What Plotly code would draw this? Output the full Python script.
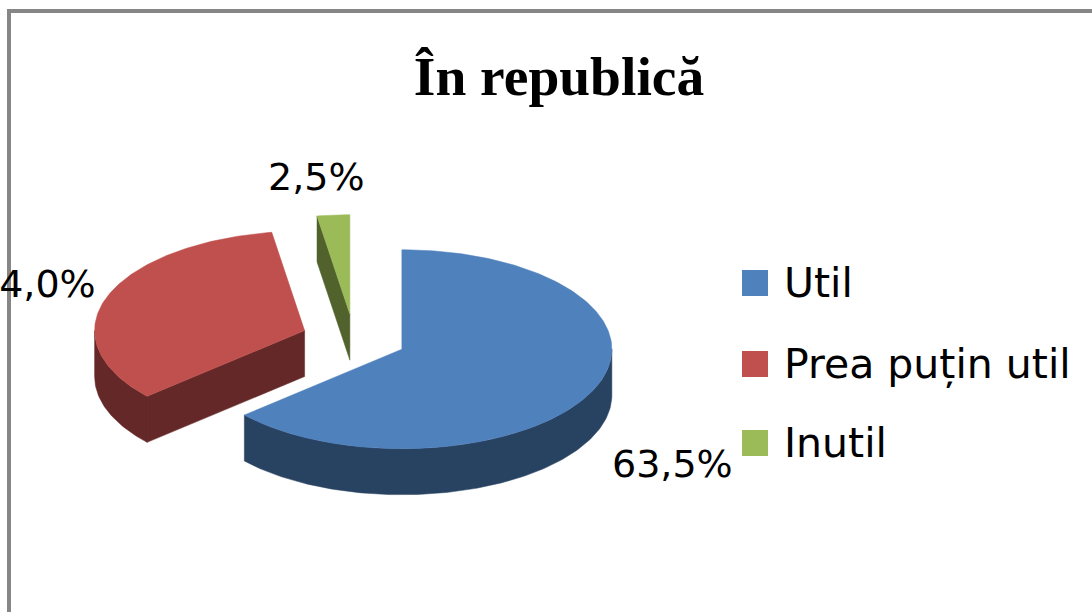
import numpy as np
import plotly.graph_objects as go

title = "În republică"
categories = ["Util", "Prea puțin util", "Inutil"]
values = [63.5, 34.0, 2.5]

top_colors = ["#4F81BD", "#C0504D", "#9BBB59"]
wall_colors = ["#284262", "#632827", "#51622C"]

# Pie geometry, in pixels of the page
W, H = 1092, 612
ORIGIN = (354.0, 339.0)
RX, RY = 210.0, 99.5
DEPTH = 46.0
EXPLODE = 0.25


def pt(center, deg):
    a = np.radians(deg)
    return center[0] + RX * np.sin(a), center[1] - RY * np.cos(a)


def arc(center, a0, a1):
    n = max(2, int(abs(a1 - a0)) + 2)
    xs, ys = pt(center, np.linspace(a0, a1, n))
    return list(xs), list(ys)


fig = go.Figure()

edges = np.concatenate([[0], np.cumsum(values)]) / sum(values) * 360
slices = []
for i in range(len(values)):
    a0, a1 = edges[i], edges[i + 1]
    mid = (a0 + a1) / 2
    c = pt(ORIGIN, mid)
    c = (ORIGIN[0] + EXPLODE * (c[0] - ORIGIN[0]), ORIGIN[1] + EXPLODE * (c[1] - ORIGIN[1]))
    slices.append((i, a0, a1, c))


def poly(xs, ys, color):
    fig.add_trace(go.Scatter(x=xs, y=ys, mode="lines", fill="toself", fillcolor=color,
                             line=dict(width=0.5, color=color), hoverinfo="skip", showlegend=False))


# back to front: green, red, blue
for i, a0, a1, c in reversed(slices):
    # curved outer wall: the part of the rim that faces the viewer
    w0, w1 = max(a0, 90), min(a1, 270)
    if w1 > w0:
        xs, ys = arc(c, w0, w1)
        poly(xs + xs[::-1] + [xs[0]], ys + [y + DEPTH for y in ys[::-1]] + [ys[0]], wall_colors[i])
    # straight cut face at the start of the slices on the left side
    if a0 > 180:
        x0, y0 = pt(c, a0)
        poly([c[0], x0, x0, c[0], c[0]],
             [c[1], y0, y0 + DEPTH, c[1] + DEPTH, c[1]], wall_colors[i])
    # top face
    xs, ys = arc(c, a0, a1)
    poly([c[0]] + xs + [c[0]], [c[1]] + ys + [c[1]], top_colors[i])

# Legend
legend_x, legend_text_x = 755, 782
legend_y = [283, 364, 443]
for name, color, y in zip(categories, top_colors, legend_y):
    fig.add_trace(go.Scatter(x=[legend_x], y=[y], mode="markers", name=name, showlegend=False,
                             marker=dict(symbol="square", size=26, color=color, line=dict(width=0)),
                             hoverinfo="name"))

LEGEND_FONT = dict(family="DejaVu Sans", size=41, color="#000000")
LABEL_FONT = dict(family="DejaVu Sans", size=38, color="#000000")
annotations = []
for name, y in zip(categories, legend_y):
    annotations.append(dict(x=legend_text_x, y=y, text=name, xanchor="left", yanchor="middle",
                            showarrow=False, font=LEGEND_FONT, xref="x", yref="y"))

label_pos = [(735, 464, "right"), (98, 284, "right"), (367, 177, "right")]
for v, (x, y, anchor) in zip(values, label_pos):
    annotations.append(dict(x=x, y=y, text=f"{v:.1f}%".replace(".", ","), xanchor=anchor,
                            yanchor="middle", showarrow=False, font=LABEL_FONT, xref="x", yref="y"))

shapes = [
    dict(type="line", xref="x", yref="y", x0=9, y0=612, x1=9, y1=11, line=dict(color="#868686", width=4)),
    dict(type="line", xref="x", yref="y", x0=7, y0=11, x1=1092, y1=11, line=dict(color="#868686", width=4)),
]

fig.update_layout(
    width=W, height=H, autosize=False,
    margin=dict(l=0, r=0, t=0, b=0),
    paper_bgcolor="white", plot_bgcolor="white",
    showlegend=False,
    title=dict(text=title, x=559 / W, xanchor="center", y=1 - 76 / H, yanchor="middle",
               font=dict(family="Liberation Serif", size=55.5, color="#000000", weight="bold")),
    xaxis=dict(range=[0, W], visible=False, fixedrange=True),
    yaxis=dict(range=[H, 0], visible=False, fixedrange=True),
    annotations=annotations, shapes=shapes,
)
fig.write_html("out.html", config={"displayModeBar": False},
               post_script="document.body.style.margin='0';document.documentElement.style.overflow='hidden';")
